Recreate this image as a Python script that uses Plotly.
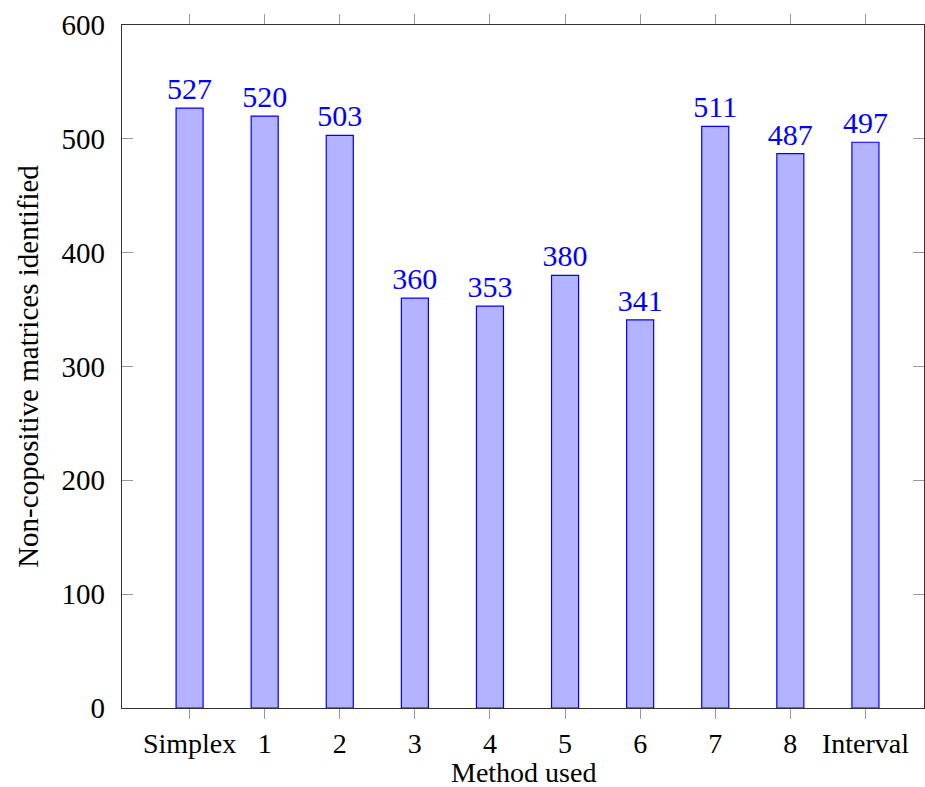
import plotly.graph_objects as go

categories = ["Simplex", "1", "2", "3", "4", "5", "6", "7", "8", "Interval"]
values = [527, 520, 503, 360, 353, 380, 341, 511, 487, 497]
y_ticks = [0, 100, 200, 300, 400, 500, 600]

FONT = "Liberation Serif"

fig = go.Figure()
fig.add_trace(go.Bar(
    x=categories, y=values,
    width=0.36,
    marker=dict(color="#b3b3ff", line=dict(color="#0000ff", width=1.2)),
    text=[str(v) for v in values],
    textposition="outside",
    textfont=dict(color="#0000ff", size=30, family=FONT),
    constraintext="none",
    cliponaxis=False,
))

fig.update_layout(
    width=925, height=787,
    margin=dict(l=122, r=1, t=25, b=79, autoexpand=False),
    paper_bgcolor="white", plot_bgcolor="white",
    font=dict(family=FONT, size=29, color="black"),
    showlegend=False,
    xaxis=dict(
        type="category", range=[-0.9, 9.78],
        showgrid=False, zeroline=False,
        showline=True, linecolor="#333", linewidth=1.3, mirror="allticks",
        ticks="outside", ticklen=10, tickcolor="#999", tickwidth=1,
        tickfont=dict(size=28, family=FONT),
    ),
    yaxis=dict(
        range=[0, 600], tickvals=y_ticks,
        showgrid=False, zeroline=False,
        showline=True, linecolor="#333", linewidth=1.3, mirror="allticks",
        ticks="inside", ticklen=11, tickcolor="#999", tickwidth=1,
        ticklabelstandoff=10,
        tickfont=dict(size=29, family=FONT),
        title=dict(text="Non-copositive matrices identified", standoff=14,
                   font=dict(size=29, family=FONT)),
    ),
    annotations=[dict(
        text="Method used", xref="paper", yref="paper", x=0.5, y=0,
        xanchor="center", yanchor="top", yshift=-47, showarrow=False,
        font=dict(size=28, family=FONT, color="black"),
    )],
)

fig.write_html("out.html")
